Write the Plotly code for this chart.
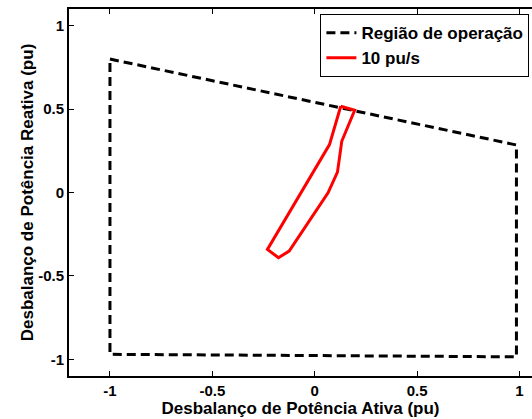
import plotly.graph_objects as go

# Operating region boundary (active, reactive imbalance in pu)
region_p = [-1.0, 0.985, 0.985, -1.0, -1.0]
region_q = [0.80, 0.285, -0.985, -0.97, 0.80]

# Trajectory envelope for 10 pu/s ramp
traj_p = [0.127, 0.195, 0.132, 0.111, 0.065, -0.125, -0.177, -0.231, 0.072, 0.127]
traj_q = [0.517, 0.493, 0.307, 0.122, -0.002, -0.351, -0.391, -0.341, 0.287, 0.517]

tick_vals = [-1, -0.5, 0, 0.5, 1]
tick_text = ["-1", "-0.5", "0", "0.5", "1"]

font_family = "Liberation Sans, Arial, Helvetica, sans-serif"

fig = go.Figure()
fig.add_trace(go.Scatter(
    x=region_p, y=region_q, mode="lines", name="Região de operação",
    line=dict(color="black", width=3, dash="9px,5px"),
))
fig.add_trace(go.Scatter(
    x=traj_p, y=traj_q, mode="lines", name="10 pu/s",
    line=dict(color="#ff0000", width=3),
))

fig.update_layout(
    width=532, height=419,
    margin=dict(l=68.5, r=0, t=8.7, b=43.3),
    paper_bgcolor="white", plot_bgcolor="white",
    font=dict(family=font_family, size=15, color="black", weight="bold"),
    showlegend=True,
    legend=dict(
        x=0.543, y=0.986, xanchor="left", yanchor="top",
        bgcolor="white", bordercolor="black", borderwidth=1,
        font=dict(size=17, weight="bold"),
        tracegroupgap=0, itemwidth=30,
    ),
    xaxis=dict(
        range=[-1.2, 1.061], tickvals=tick_vals, ticktext=tick_text,
        showgrid=False, zeroline=False,
        showline=True, linecolor="black", linewidth=2, mirror="ticks",
        ticks="inside", ticklen=5, tickwidth=1, tickcolor="black",
        tickfont=dict(size=15, weight="bold"),
        title=dict(text="Desbalanço de Potência Ativa (pu)", standoff=2,
                   font=dict(size=17, weight="bold")),
    ),
    yaxis=dict(
        range=[-1.1, 1.1], tickvals=tick_vals, ticktext=tick_text,
        showgrid=False, zeroline=False,
        showline=True, linecolor="black", linewidth=2, mirror=False,
        ticks="inside", ticklen=5, tickwidth=1, tickcolor="black",
        tickfont=dict(size=15, weight="bold"),
        title=dict(text="Desbalanço de Potência Reativa (pu)", standoff=0,
                   font=dict(size=17, weight="bold")),
    ),
)

fig.write_html("out.html")
